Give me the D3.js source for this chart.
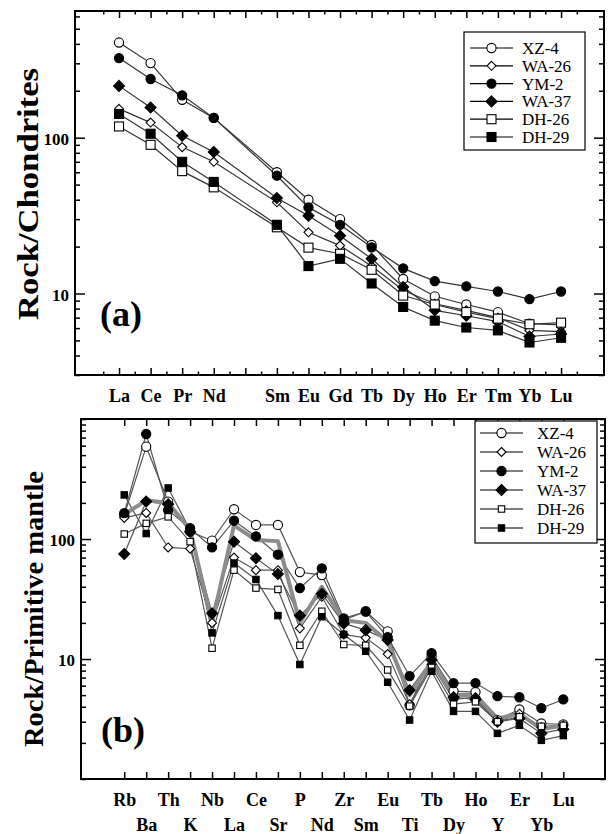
<!DOCTYPE html>
<html>
<head>
<meta charset="utf-8">
<script src="https://cdn.jsdelivr.net/npm/d3@7"></script>
<style>
body { margin: 0; background: #fff; }
svg text { font-family: "Liberation Serif", "Times New Roman", serif; }
</style>
</head>
<body>
<div id="main"><svg width="609" height="834"></svg></div>
<script>
// ---- Panel (a): chondrite-normalised REE (Pm not analysed) ----
var reeElements = ["La","Ce","Pr","Nd","Pm","Sm","Eu","Gd","Tb","Dy","Ho","Er","Tm","Yb","Lu"];
var reeXZ4  = [408, 301, 175, 134, null, 60, 40, 30, 20.5, 12.4, 9.6, 8.5, 7.6, 6.4, 6.3];
var reeWA26 = [153, 125, 87, 70, null, 38.5, 24.7, 20.3, 15, 10.5, 8.6, 7.8, 7.0, 5.8, 5.7];
var reeYM2  = [324, 238, 187, 134, null, 57, 35.7, 27.6, 19.8, 14.5, 12, 11.1, 10.3, 9.2, 10.3];
var reeWA37 = [215, 156, 103, 81, null, 41, 31.6, 23.5, 16.7, 11, 7.8, 7.2, 6.6, 5.3, 5.5];
var reeDH26 = [118, 90, 61, 48, null, 26.6, 19.7, 18, 14.2, 9.7, 8.5, 7.6, 6.9, 6.35, 6.5];
var reeDH29 = [142, 106, 70, 52, null, 27.6, 15, 16.7, 11.6, 8.2, 6.7, 6.05, 5.8, 4.85, 5.2];

// ---- Panel (b): primitive-mantle normalised spider diagram ----
var spiderElements = ["Rb","Ba","Th","K","Nb","La","Ce","Sr","P","Nd","Zr","Sm","Eu","Ti","Tb","Dy","Ho","Y","Er","Yb","Lu"];
var spXZ4  = [158, 588, 205, 115, 97, 177, 131, 131, 53, 50, 21, 25, 17, 4.1, 10.5, 5.4, 5.3, 3.1, 3.8, 2.9, 2.85];
var spWA26 = [150, 165, 85, 83, 20, 70, 55, 55, 18, 33, 16, 15, 11, 4.2, 9, 4.6, 4.8, 3.0, 3.5, 2.7, 2.8];
var spYM2  = [164, 750, 174, 123, 85, 142, 105, 74, 39, 57, 21.8, 24.8, 15.2, 7.2, 11.2, 6.3, 6.3, 4.9, 4.8, 3.9, 4.6];
var spWA37 = [75, 205, 195, 115, 24, 95, 69, 51, 23, 35, 19.8, 17.4, 14.4, 5.5, 9.8, 4.8, 4.6, 3.0, 3.2, 2.4, 2.6];
var spDH26 = [110, 135, 153, 95, 12.3, 55, 39, 38, 13, 25, 13.2, 13, 8.1, 4.05, 8.5, 4.2, 4.4, 3.0, 3.3, 2.75, 2.8];
var spDH29 = [233, 111, 266, 119, 16.5, 63, 46, 23, 9.0, 22.5, 16, 11.6, 6.4, 3.1, 7.9, 3.66, 3.66, 2.4, 2.8, 2.1, 2.3];
var spMean = [160, 210, 200, 120, 20, 130, 98, 96, 20, 40, 21, 20, 14, 5, 9.5, 5, 5, 3.2, 3.5, 2.6, 2.8];

var sampleNames = ["XZ-4", "WA-26", "YM-2", "WA-37", "DH-26", "DH-29"];
var yLabelTicks = [10, 100];

var svg = d3.select("#main").select("svg");

// marker look for each sample: shape, fill, size for panel a / panel b
var markerStyle = {
    "XZ-4":  {shape: "circle",  fill: "#fff", a: 4.6, b: 4.6},
    "WA-26": {shape: "diamond", fill: "#fff", a: 3.6, b: 3.6},
    "YM-2":  {shape: "circle",  fill: "#000", a: 4.6, b: 4.6},
    "WA-37": {shape: "diamond", fill: "#000", a: 4.4, b: 4.4},
    "DH-26": {shape: "square",  fill: "#fff", a: 4.5, b: 3.2},
    "DH-29": {shape: "square",  fill: "#000", a: 4.5, b: 3.2}
};

function drawMarker(g, name, cx, cy, panel) {
    var st = markerStyle[name];
    var r = st[panel];
    var m;
    if (st.shape === "circle") {
        m = g.append("circle").attr("cx", cx).attr("cy", cy).attr("r", r);
    } else if (st.shape === "square") {
        m = g.append("rect").attr("x", cx - r).attr("y", cy - r)
            .attr("width", 2 * r).attr("height", 2 * r);
    } else {
        m = g.append("path")
            .attr("d", "M" + cx + "," + (cy - r * 1.25) + "L" + (cx + r * 1.25) + "," + cy +
                       "L" + cx + "," + (cy + r * 1.25) + "L" + (cx - r * 1.25) + "," + cy + "Z");
    }
    m.attr("fill", st.fill).attr("stroke", "#000").attr("stroke-width", 1.1);
}

function drawPanel(p) {
    var g = svg.append("g");
    var x = d3.scaleLinear().domain(p.xDomain).range([p.left, p.right]);
    var y = d3.scaleLog().domain(p.yDomain).range([p.bottom, p.top]);
    var n = p.elements.length;

    // y minor ticks, left and right, pointing inward
    var minor = y.ticks().filter(function(v) { return yLabelTicks.indexOf(v) < 0; });
    g.append("g").attr("class", "axis")
        .attr("transform", "translate(" + p.left + ",0)")
        .call(d3.axisLeft(y).tickValues(minor).tickSize(-5).tickFormat(""));
    g.append("g").attr("class", "axis")
        .attr("transform", "translate(" + p.right + ",0)")
        .call(d3.axisRight(y).tickValues(minor).tickSize(-5).tickFormat(""));
    g.append("g").attr("class", "axis ylab")
        .attr("transform", "translate(" + p.left + ",0)")
        .call(d3.axisLeft(y).tickValues(yLabelTicks).tickSize(-10).tickPadding(6)
            .tickFormat(d3.format("d")));
    g.append("g").attr("class", "axis")
        .attr("transform", "translate(" + p.right + ",0)")
        .call(d3.axisRight(y).tickValues(yLabelTicks).tickSize(-10).tickFormat(""));

    // x ticks, bottom (with labels) and top
    var xb = g.append("g").attr("class", "axis xlab")
        .attr("transform", "translate(0," + p.bottom + ")")
        .call(d3.axisBottom(x).tickValues(d3.range(n)).tickSize(-7)
            .tickFormat(function(i) { return p.elements[i] === "Pm" ? "" : p.elements[i]; }));
    // label rows, relative to the axis baseline
    xb.selectAll("text")
        .attr("dy", null)
        .attr("y", function(i) {
            return (p.twoRows && i % 2 === 1 ? p.labelY2 : p.labelY) - p.bottom;
        });
    g.append("g").attr("class", "axis")
        .attr("transform", "translate(0," + p.top + ")")
        .call(d3.axisTop(x).tickValues(d3.range(n)).tickSize(-7).tickFormat(""));
    if (p.halfTicks) {
        var half = d3.range(n + 1).map(function(i) { return i - 0.5; });
        g.append("g").attr("class", "axis")
            .attr("transform", "translate(0," + p.bottom + ")")
            .call(d3.axisBottom(x).tickValues(half).tickSize(-3.5).tickFormat(""));
        g.append("g").attr("class", "axis")
            .attr("transform", "translate(0," + p.top + ")")
            .call(d3.axisTop(x).tickValues(half).tickSize(-3.5).tickFormat(""));
    }
    g.selectAll(".axis .domain").remove();
    g.selectAll(".axis line").attr("stroke", "#000").attr("stroke-width", 1.5);
    g.selectAll(".axis text").attr("fill", "#000")
        .style("font-family", "'Liberation Serif', serif").style("font-weight", "bold");
    g.selectAll(".ylab text").style("font-size", "17px").attr("dy", "0.4em");
    g.selectAll(".xlab text").style("font-size", "18px");

    // sample lines then markers
    var line = d3.line()
        .x(function(d) { return x(d.i); })
        .y(function(d) { return y(d.v); });
    function pts(vals) {
        return vals.map(function(v, i) { return {i: i, v: v}; })
            .filter(function(d) { return d.v != null; });
    }
    p.series.forEach(function(vals) {
        g.append("path").datum(pts(vals)).attr("d", line)
            .attr("fill", "none").attr("stroke", p.lineColor).attr("stroke-width", 1.2);
    });
    if (p.mean) {
        g.append("path").datum(pts(p.mean)).attr("d", line)
            .attr("fill", "none").attr("stroke", "#8c8c8c").attr("stroke-width", 4)
            .attr("stroke-linejoin", "round");
    }
    p.series.forEach(function(vals, k) {
        pts(vals).forEach(function(d) {
            drawMarker(g, sampleNames[k], x(d.i), y(d.v), p.panel);
        });
    });

    // frame
    g.append("rect").attr("x", p.left).attr("y", p.top)
        .attr("width", p.right - p.left).attr("height", p.bottom - p.top)
        .attr("fill", "none").attr("stroke", "#000").attr("stroke-width", 2);

    // legend
    var lg = p.legend;
    g.append("rect").attr("x", lg.x).attr("y", lg.y).attr("width", lg.w).attr("height", lg.h)
        .attr("fill", "#fff").attr("stroke", "#000").attr("stroke-width", 1.2);
    sampleNames.forEach(function(name, k) {
        var ly = lg.row0 + k * lg.step;
        g.append("line").attr("x1", lg.lineX1).attr("x2", lg.lineX2)
            .attr("y1", ly).attr("y2", ly).attr("stroke", "#000").attr("stroke-width", 1.2);
        drawMarker(g, name, (lg.lineX1 + lg.lineX2) / 2, ly, p.panel);
        g.append("text").attr("x", lg.textX).attr("y", ly).attr("dy", "0.35em")
            .style("font-size", "17px").text(name);
    });

    // panel letter and y title
    g.append("text").attr("x", p.letterX).attr("y", p.letterY)
        .style("font-size", "36px").style("font-weight", "bold").text(p.letter);
    g.append("text")
        .attr("transform", "translate(" + p.titleX + "," + p.titleY + ") rotate(-90)")
        .attr("text-anchor", "middle")
        .attr("textLength", p.titleLen).attr("lengthAdjust", "spacingAndGlyphs")
        .style("font-size", p.titleSize + "px").style("font-weight", "bold").text(p.title);
}

drawPanel({
    panel: "a", elements: reeElements,
    series: [reeXZ4, reeWA26, reeYM2, reeWA37, reeDH26, reeDH29],
    left: 75, right: 604, top: 11, bottom: 375,
    xDomain: [-1.394, 15.36], yDomain: [3, 650],
    halfTicks: true, twoRows: false, labelY: 402,
    lineColor: "#333",
    legend: {x: 464, y: 32, w: 121, h: 118, row0: 48, step: 17.8,
             lineX1: 470, lineX2: 513, textX: 522},
    letter: "(a)", letterX: 100, letterY: 326,
    title: "Rock/Chondrites", titleX: 38, titleY: 194, titleSize: 30, titleLen: 252
});

drawPanel({
    panel: "b", elements: spiderElements,
    series: [spXZ4, spWA26, spYM2, spWA37, spDH26, spDH29],
    mean: spMean,
    left: 81, right: 605, top: 419, bottom: 779,
    xDomain: [-1.97, 21.9], yDomain: [1, 1000],
    halfTicks: false, twoRows: true, labelY: 806, labelY2: 831,
    lineColor: "#555",
    legend: {x: 475, y: 421, w: 122, h: 122, row0: 433, step: 19,
             lineX1: 480, lineX2: 523, textX: 537},
    letter: "(b)", letterX: 101, letterY: 742,
    title: "Rock/Primitive mantle", titleX: 43, titleY: 609, titleSize: 28, titleLen: 276
});
</script>
</body>
</html>
